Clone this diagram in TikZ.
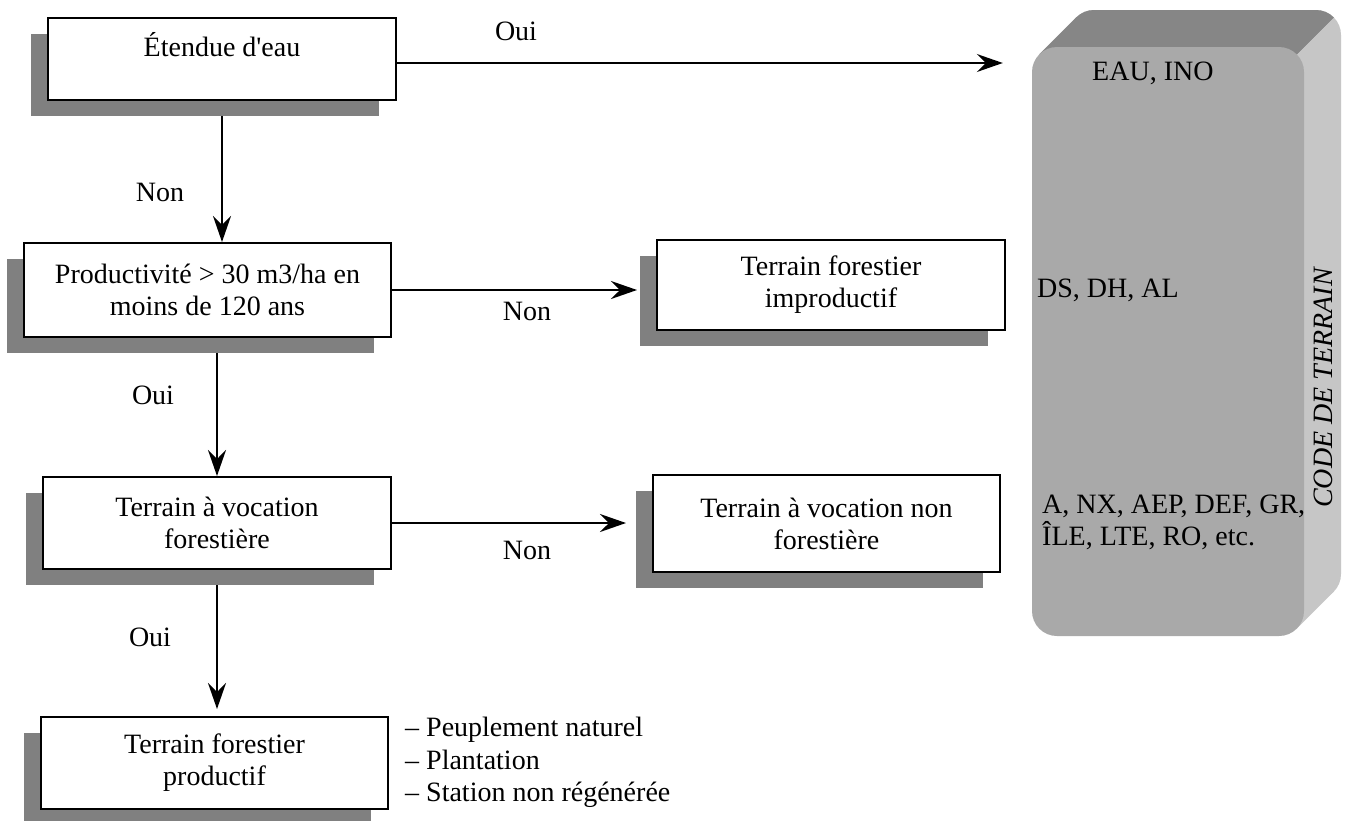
\documentclass[tikz,border=0pt]{standalone}
\usepackage{fontspec}
\setmainfont{Liberation Serif}[Ligatures=TeXOff]
\usetikzlibrary{arrows.meta,shadows}

\definecolor{shade}{HTML}{808080}
\definecolor{facefront}{HTML}{A9A9A9}
\definecolor{facetop}{HTML}{868686}
\definecolor{faceside}{HTML}{C6C6C6}

\pgfdeclarelayer{paper}
\pgfdeclarelayer{bg}
\pgfsetlayers{paper,bg,main}

\begin{document}
\begin{tikzpicture}[x=1pt,y=-1pt,
  font=\fontsize{28}{32}\selectfont,
  box/.style={draw=black, line width=2pt, fill=white, align=center, inner sep=0pt,
    drop shadow={shadow xshift=-17pt, shadow yshift=-16pt, fill=shade, opacity=1}},
  link/.style={line width=2pt, -{Stealth[length=26pt,width=18pt,inset=9pt]}},
  tag/.style={inner sep=0pt}
]
\begin{pgfonlayer}{paper}
  \fill[white] (0,0) rectangle (1346,820);
\end{pgfonlayer}
\useasboundingbox (0,0) rectangle (1346,820);

% decision boxes
\node[box, minimum width=348pt, minimum height=82pt, text height=18pt, text depth=24pt]
  (water) at (222,59) {Étendue d'eau};
\node[box, minimum width=367pt, minimum height=94pt]
  (prod) at (207.5,290) {Productivité > 30 m3/ha en\\moins de 120 ans};
\node[box, minimum width=348pt, minimum height=90pt]
  (improd) at (831,285) {Terrain forestier\\improductif};
\node[box, minimum width=348pt, minimum height=92pt]
  (vocation) at (217,523) {Terrain à vocation\\forestière};
\node[box, minimum width=347pt, minimum height=97pt]
  (nonfor) at (826.5,523.5) {Terrain à vocation non\\forestière};
\node[box, minimum width=347pt, minimum height=92pt]
  (productive) at (214.5,763) {Terrain forestier\\productif};

% extruded code panel: side faces first, then the front face
\fill[faceside, rounded corners=25pt] (1069,10) rectangle (1341,599);
\fill[faceside] (1039.3,54.3) -- (1076.3,17.3) -- (1333.7,17.3) -- (1296.7,54.3) -- cycle;
\fill[faceside] (1296.7,54.3) -- (1333.7,17.3) -- (1333.7,591.7) -- (1296.7,628.7) -- cycle;
\begin{scope}
  \clip (0,0) -- (1351,0) -- (0,1351) -- cycle;
  \fill[facetop, rounded corners=25pt] (1069,10) rectangle (1341,599);
  \fill[facetop] (1039.3,54.3) -- (1076.3,17.3) -- (1333.7,17.3) -- (1296.7,54.3) -- cycle;
\end{scope}
\node[fill=facefront, rounded corners=25pt, minimum width=272pt, minimum height=589pt,
  inner sep=0pt] (codes) at (1168,341.5) {};

\node[tag, anchor=west] (eau) at (1092,73) {EAU, INO};
\node[tag, anchor=west] (ds) at (1037,290) {DS, DH, AL};
\node[tag, anchor=west, align=left] (autres) at (1042,522) {A, NX, AEP, DEF, GR,\\ÎLE, LTE, RO, etc.};
\node[tag, rotate=90, font=\fontsize{28}{32}\selectfont\itshape] (codelabel) at (1323,388) {CODE DE TERRAIN};

% list of productive stand types
\node[tag, anchor=north west, align=left, font=\fontsize{28}{32.5}\selectfont]
  (kinds) at (405,717) {– Peuplement naturel\\– Plantation\\– Station non régénérée};

% answer labels
\node[tag] (oui1) at (516,31) {Oui};
\node[tag] (non1) at (160,192) {Non};
\node[tag] (non2) at (527,311) {Non};
\node[tag] (oui2) at (153,395) {Oui};
\node[tag] (non3) at (527,550) {Non};
\node[tag] (oui3) at (150,637) {Oui};

% connectors, kept behind the boxes and their shadows
\begin{pgfonlayer}{bg}
  \draw[link, shorten >=29pt] ([yshift=-4pt]water.east) -- ([yshift=-4pt]water.east -| codes.west);
  \draw[link] (water.south) -- (water.south |- prod.north);
  \draw[link, shorten >=19pt] (prod.east) -- (prod.east -| improd.west);
  \draw[link] (prod.south -| vocation.north) -- (vocation.north);
  \draw[link, shorten >=26pt] (vocation.east) -- (vocation.east -| nonfor.west);
  \draw[link, shorten >=7pt] (vocation.south) -- (vocation.south |- productive.north);
\end{pgfonlayer}
\end{tikzpicture}
\end{document}
